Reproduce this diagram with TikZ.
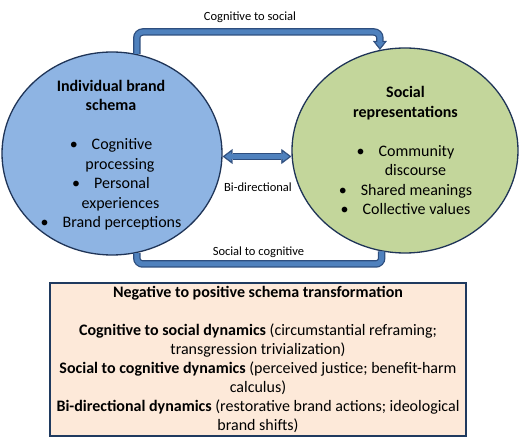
\documentclass[tikz,border=0pt]{standalone}
\usepackage{fontspec}
\setmainfont{Carlito}
\usetikzlibrary{shapes.geometric,arrows.meta}
\definecolor{cblue}{HTML}{8EB4E3}
\definecolor{cgreen}{HTML}{C3D69B}
\definecolor{navy}{HTML}{1F3457}
\definecolor{abl}{HTML}{4F81BD}
\definecolor{arrline}{HTML}{2E4E7E}
\definecolor{peach}{HTML}{FDE9D9}
\definecolor{boxline}{HTML}{1F3A5F}
\begin{document}
\begin{tikzpicture}[x=1pt,y=-1pt,
  circ/.style={ellipse, draw=navy, line width=1.3pt, inner sep=0pt},
  ctext/.style={align=center, font=\fontsize{16}{19.5}\selectfont, inner sep=0pt},
  btext/.style={align=center, font=\fontsize{16}{19}\selectfont, inner sep=0pt},
  lbl/.style={font=\fontsize{12.5}{15}\selectfont, inner sep=0pt},
  conout/.style={draw=arrline, line width=7.5pt, rounded corners=6pt},
  conin/.style={draw=abl, line width=5pt, rounded corners=6pt}]
\useasboundingbox (0,0) rectangle (520,438);
% circles
\node[circ, fill=cblue, minimum width=220pt, minimum height=203pt] (L) at (112,153.5) {};
\node[circ, fill=cgreen, minimum width=226pt, minimum height=205pt] (R) at (405,150.5) {};
\node[ctext] (Lt) at (111,155) {\textbf{Individual brand}\\\textbf{schema}\\[19.5pt]
  \textbullet\hspace{14pt}Cognitive\\\hspace*{18pt}processing\\
  \textbullet\hspace{14pt}Personal\\\hspace*{19pt}experiences\\
  \textbullet\hspace{14pt}Brand perceptions};
\node[ctext] (Rt) at (405.5,150.5) {\textbf{Social}\\\textbf{representations}\\[19.5pt]
  \textbullet\hspace{14pt}Community\\\hspace*{20pt}discourse\\
  \textbullet\hspace{14pt}Shared meanings\\
  \textbullet\hspace{14pt}Collective values};
% connectors
\coordinate (topc) at (0,32);
\coordinate (botc) at (0,264);
\coordinate (bic) at (0,156.5);
\draw[conout, -{Triangle[width=14pt,length=9pt,line width=0.4pt]}]
  (L.76) -- (L.76 |- topc) -- (R.104 |- topc) -- (R.104);
\draw[conin, shorten >=2.1pt, -{Triangle[width=8.7pt,length=5.6pt,line width=0.4pt]}]
  (L.76) -- (L.76 |- topc) -- (R.104 |- topc) -- (R.104);
\draw[conout] (R.-103) -- (R.-103 |- botc) -- (L.-76 |- botc) -- (L.-76);
\draw[conin] (R.-103) -- (R.-103 |- botc) -- (L.-76 |- botc) -- (L.-76);
\draw[conout, {Triangle[width=15pt,length=10pt,line width=0.4pt]}-{Triangle[width=15pt,length=10pt,line width=0.4pt]}]
  (L.east |- bic) -- (R.west |- bic);
\draw[conin, shorten >=2.2pt, shorten <=2.2pt, {Triangle[width=9.8pt,length=6.5pt,line width=0.4pt]}-{Triangle[width=9.8pt,length=6.5pt,line width=0.4pt]}]
  (L.east |- bic) -- (R.west |- bic);
% labels
\node[lbl] (l1) at (250,17) {Cognitive to social};
\node[lbl] (l2) at (258.5,252) {Social to cognitive};
\node[lbl] (l3) at (258,187) {Bi-directional};
% box
\node[draw=boxline, line width=2.5pt, fill=peach, minimum width=416pt, minimum height=153pt, inner sep=0pt] (box) at (258,359.5) {};
\node[btext] (bt) at (258,359.5) {\textbf{Negative to positive schema transformation}\\[19pt]
  \textbf{Cognitive to social dynamics} (circumstantial reframing;\\
  transgression trivialization)\\
  \textbf{Social to cognitive dynamics} (perceived justice; benefit-harm\\
  calculus)\\
  \textbf{Bi-directional dynamics} (restorative brand actions; ideological\\
  brand shifts)};
\end{tikzpicture}
\end{document}
